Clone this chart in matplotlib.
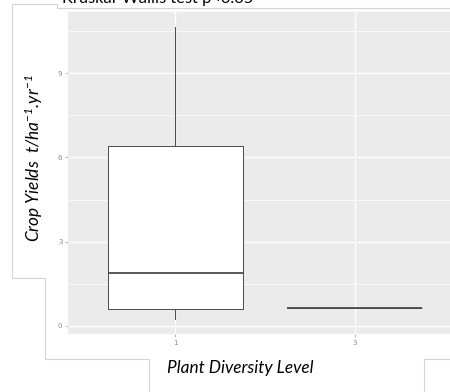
import matplotlib.pyplot as plt
from matplotlib.lines import Line2D

plt.rcParams['mathtext.fontset'] = 'custom'
plt.rcParams['mathtext.rm'] = 'Lato:italic'
plt.rcParams['mathtext.it'] = 'Lato:italic'

# Crop yields by plant diversity level (box summaries)
levels = ['1', '3']
whisker_low = [0.25, 0.64]
q1 = [0.61, 0.64]
median = [1.89, 0.64]
q3 = [6.39, 0.64]
whisker_high = [10.64, 0.64]
y_ticks = [0, 3, 6, 9]

W, H = 450, 392
fig = plt.figure(figsize=(W / 100, H / 100), dpi=100)

# panel in pixel coords (left, top, right, bottom); right side runs off the page
left, top, right, bottom = 68, 12, 462, 334
ax = fig.add_axes([left / W, 1 - bottom / H, (right - left) / W, (bottom - top) / H])
ax.set_facecolor('#EBEBEB')

stats = []
for i, lv in enumerate(levels):
    stats.append(dict(label=lv, whislo=whisker_low[i], q1=q1[i], med=median[i],
                      q3=q3[i], whishi=whisker_high[i], fliers=[]))

box_col = '#4a4a4a'
ax.bxp(stats, positions=[1, 2], widths=0.75, patch_artist=True, showcaps=False,
       boxprops=dict(facecolor='white', edgecolor=box_col, linewidth=0.7),
       whiskerprops=dict(color=box_col, linewidth=0.7),
       medianprops=dict(color=box_col, linewidth=1.3),
       zorder=3)

ax.set_xlim(0.4, 2.6)
ax.set_ylim(-0.29, 11.18)
ax.set_xticks([1, 2])
ax.set_xticklabels(levels)
ax.set_yticks(y_ticks)
ax.set_yticks([1.5, 4.5, 7.5, 10.5], minor=True)
ax.grid(True, which='major', color='white', linewidth=0.9, zorder=0)
ax.grid(True, which='minor', axis='y', color='white', linewidth=0.5, zorder=0)
ax.set_axisbelow(True)
for s in ax.spines.values():
    s.set_visible(False)
ax.tick_params(which='major', length=2.5, width=0.5, color='#999999',
               labelsize=5, labelcolor='#888888', pad=1.5)
ax.tick_params(which='minor', length=0)

# overlay for the text boxes and labels, in pixel coordinates
ov = fig.add_axes([0, 0, 1, 1], facecolor='none')
ov.set_xlim(0, W)
ov.set_ylim(H, 0)
ov.axis('off')

frame_col = '#D4D4D4'
paths = [
    ([12, 12, 57, 57, 450], [278, 4, 4, 7.5, 7.5]),
    ([12, 45, 45, 149, 149], [278, 278, 359, 359, 392]),
    ([450, 424, 424], [359, 359, 392]),
]
for xs, ys in paths:
    ov.add_line(Line2D(xs, ys, color=frame_col, linewidth=0.8))

ov.text(62, 2.5, 'Kruskal-Wallis test p<0.05', family='Lato', fontsize=11.8,
        ha='left', va='baseline', color='black')
ov.text(240, 368, 'Plant Diversity Level', family='Lato', style='italic',
        fontsize=12.4, ha='center', va='center', color='black')
ov.text(34, 158, r'Crop Yields  t/ha$^{-1}$.yr$^{-1}$', family='Lato',
        style='italic', fontsize=12.4, rotation=90, ha='center', va='center',
        color='black')

fig.savefig('out.png', dpi=100)
